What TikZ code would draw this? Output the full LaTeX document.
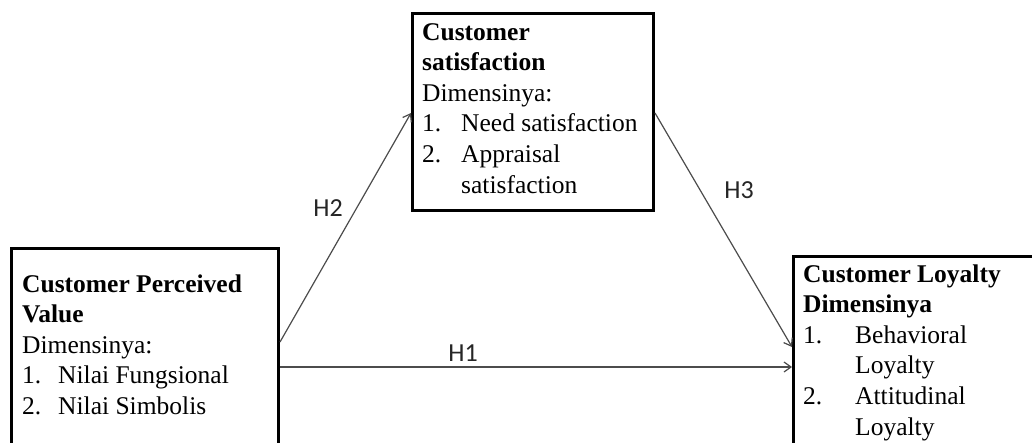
\documentclass[tikz,border=0pt]{standalone}
\usepackage{fontspec}
\setmainfont{Liberation Serif}
\newfontfamily\hfont{Carlito}
\usetikzlibrary{arrows.meta}
\tikzset{
  box/.style={draw=black, line width=3pt, rectangle, anchor=north west, inner sep=0pt},
  txt/.style={anchor=base west, inner sep=0pt, font=\fontsize{25.5}{30.6}\selectfont},
  conn/.style={draw=black!70, line width=1.2pt, -{Straight Barb[length=7pt,width=10pt]}},
  hlab/.style={font=\hfont\fontsize{26}{30}\selectfont, text=black!85, inner sep=0pt}
}
\begin{document}
\begin{tikzpicture}[x=1pt,y=-1pt]
\clip (0,0) rectangle (1032,442);
\fill[white] (0,0) rectangle (1032,442);
% boxes
\node[box, minimum width=267pt, minimum height=230pt] (A) at (10,247) {};
\node[box, minimum width=241pt, minimum height=197pt] (B) at (411,12) {};
\node[box, minimum width=260pt, minimum height=220pt] (C) at (792,255) {};
% texts
\node[txt] (At) at (22,292) {\begin{tabular}[t]{@{}p{36pt}@{}l@{}}
\multicolumn{2}{@{}l@{}}{\textbf{Customer Perceived}}\\
\multicolumn{2}{@{}l@{}}{\textbf{Value}}\\
\multicolumn{2}{@{}l@{}}{Dimensinya:}\\
1. & Nilai Fungsional\\
2. & Nilai Simbolis
\end{tabular}};
\node[txt] (Bt) at (422,40) {\begin{tabular}[t]{@{}p{39pt}@{}l@{}}
\multicolumn{2}{@{}l@{}}{\textbf{Customer}}\\
\multicolumn{2}{@{}l@{}}{\textbf{satisfaction}}\\
\multicolumn{2}{@{}l@{}}{Dimensinya:}\\
1. & Need satisfaction\\
2. & Appraisal\\
 & satisfaction
\end{tabular}};
\node[txt] (Ct) at (803,282) {\begin{tabular}[t]{@{}p{52pt}@{}l@{}}
\multicolumn{2}{@{}l@{}}{\textbf{Customer Loyalty}}\\
\multicolumn{2}{@{}l@{}}{\textbf{Dimensinya}}\\
1. & Behavioral\\
 & Loyalty\\
2. & Attitudinal\\
 & Loyalty
\end{tabular}};
% connectors
\draw[conn] ([yshift=-95pt]A.north east) -- ([yshift=-101pt]B.north west);
\draw[conn] ([yshift=-101pt]B.north east) -- ([yshift=-92pt]C.north west);
\draw[conn] ([yshift=-120pt]A.north east) -- ([yshift=-112pt]C.north west);
% labels
\node[hlab] (h2) at (328,208) {H2};
\node[hlab] (h3) at (739,190) {H3};
\node[hlab] (h1) at (463,353) {H1};
\end{tikzpicture}
\end{document}
